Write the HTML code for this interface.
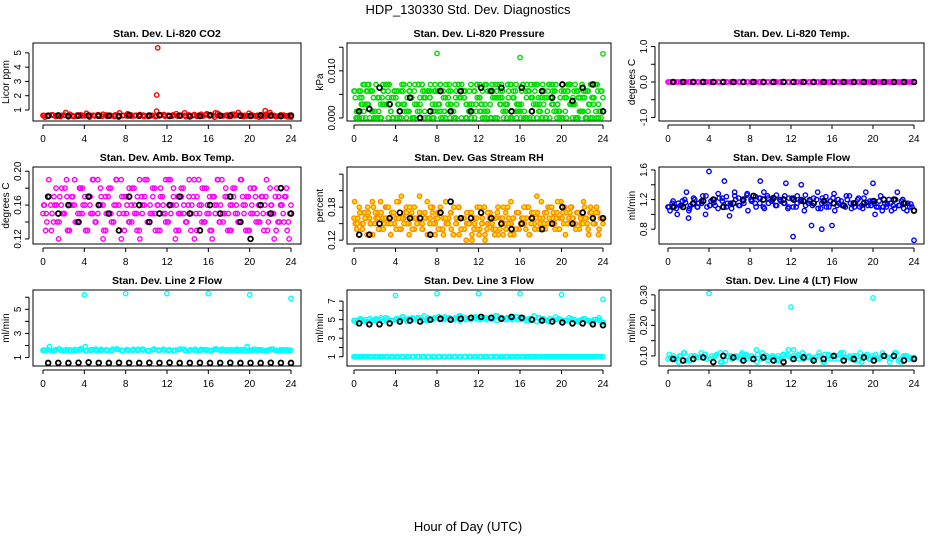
<!DOCTYPE html>
<html><head><meta charset="utf-8"><style>
body{margin:0;background:#fff}
svg{display:block;font-family:"Liberation Sans",Arial,sans-serif}
</style></head><body>
<svg id="chart" width="936" height="540" viewBox="0 0 936 540" xmlns="http://www.w3.org/2000/svg">
<text x="468" y="14" font-size="13" text-anchor="middle">HDP_130330  Std. Dev. Diagnostics</text>
<text x="468" y="531" font-size="13" text-anchor="middle">Hour of Day (UTC)</text>
</svg>
<script>
// ---- data arrays (approximate) ----
const xTicks = [0,4,8,12,16,20,24];

const co2Red = [0.62,0.58,0.66,0.55,0.6,0.64,0.52,0.61,0.57,0.66,0.59,0.54,0.63,0.6,0.56,0.65,0.58,0.62,0.5,0.61,0.67,0.57,0.6,0.63,0.55,0.62,0.6,0.58,0.66,0.61,0.56,0.64,0.59,0.62,0.54,0.6,0.68,0.63,0.57,0.74,0.62,0.8,0.66,0.6,0.56,0.7,0.65,0.58,0.62,0.77,0.6,0.63,0.55,0.7,0.82,0.62,0.58,0.64,0.6,0.5];
const co2Black = [0.6,0.62,0.58,0.6,0.61,0.59,0.6,0.58,0.62,0.6,0.61,0.63,0.58,0.6,0.55,0.58,0.64,0.6,0.62,0.6,0.58,0.63,0.6,0.57,0.61];
const co2Out = [[11.1,5.35],[11.0,2.05],[11.0,0.92],[21.5,0.95]];

const presGreen = [0.0057,0.0014,0,0.0043,0.0071,0.0029,0,0.0057,0.0014,0.0043,0,0.0029,0.0071,0.0057,0.0014,0,0.0043,0.0029,0.0057,0.0071,0,0.0014,0.0043,0.0057,0.0029,0,0.0071,0.0014,0.0057,0.0043,0,0.0029,0.0014,0.0071,0.0057,0,0.0043,0.0029,0.0014,0.0057,0.0071,0,0.0043,0.0029,0.0057,0.0014,0,0.0071,0.0043,0.0057,0.0029,0.0014,0,0.0057,0.0071,0.0043,0.0029,0,0.0014,0.0057,0.0071,0.0043,0,0.0029,0.0057,0.0014,0.0071,0,0.0043,0.0057,0.0029,0.0014,0.0071,0,0.0057,0.0043,0.0029,0.0071,0.0014,0,0.0057,0.0043,0.0071,0.0029,0.0057,0,0.0014,0.0071,0.0043,0.0057,0.0029,0,0.0071,0.0057,0.0014,0.0043];
const presGreen2 = [0,0.0029,0.0057,0.0014,0,0.0043,0.0071,0,0.0029,0.0057,0.0014,0,0.0071,0.0043,0,0.0057,0.0029,0.0014,0,0.0071,0.0043,0.0057,0,0.0029,0.0014,0.0071,0,0.0057,0.0043,0.0029,0,0.0014,0.0071,0.0057,0,0.0043,0.0029,0.0071,0.0014,0,0.0057,0.0071,0.0029,0.0043,0,0.0071,0.0014,0.0057];
const presBlack = [0.0014,0.0019,0.0064,0.0029,0.0014,0.0043,0,0.0014,0.0057,0.0014,0.0057,0.0014,0.0064,0.0057,0.0064,0.0014,0.0064,0.0014,0.0057,0.0043,0.0071,0.0036,0.0064,0.0071,0.0014];
const presOut = [[8,0.0137],[16,0.0128],[24,0.0136]];

const tempMag = new Array(60).fill(0);
const tempBlack = new Array(25).fill(0);

const ambMag = [0.15,0.13,0.17,0.16,0.14,0.18,0.12,0.16,0.15,0.19,0.13,0.17,0.16,0.14,0.18,0.15,0.17,0.13,0.16,0.19,0.14,0.15,0.18,0.16,0.13,0.17,0.15,0.14,0.19,0.16,0.12,0.17,0.15,0.18,0.14,0.16,0.13,0.19,0.15,0.17,0.14,0.16,0.18,0.15,0.13,0.17,0.16,0.19,0.14,0.15,0.18,0.16,0.13,0.17,0.15,0.14,0.19,0.16,0.12,0.17,0.15,0.18,0.14,0.16,0.13,0.17,0.15,0.19,0.16,0.14,0.18,0.15,0.13,0.17,0.16,0.14,0.19,0.15,0.17,0.13,0.16,0.18,0.15,0.14,0.17,0.16,0.13,0.18,0.15,0.17,0.14,0.16,0.15,0.17,0.14,0.16];
const ambBlack = [0.17,0.15,0.16,0.14,0.17,0.16,0.15,0.13,0.17,0.16,0.14,0.15,0.16,0.17,0.15,0.13,0.16,0.15,0.17,0.14,0.12,0.16,0.15,0.18,0.15];

const rhOrange = [0.16,0.14,0.18,0.15,0.17,0.13,0.16,0.19,0.15,0.17,0.14,0.16,0.18,0.15,0.13,0.17,0.16,0.19,0.14,0.16,0.18,0.15,0.17,0.14,0.16,0.2,0.15,0.17,0.13,0.16,0.18,0.15,0.17,0.14,0.16,0.19,0.15,0.17,0.13,0.16,0.18,0.14,0.16,0.15,0.17,0.13,0.15,0.18,0.14,0.16,0.12,0.15,0.17,0.14,0.16,0.13,0.15,0.18,0.14,0.16,0.15,0.13,0.17,0.14,0.16,0.15,0.18,0.13,0.16,0.14,0.17,0.15,0.16,0.14,0.18,0.15,0.17,0.16,0.14,0.19,0.15,0.17,0.16,0.18,0.15,0.17,0.14,0.16,0.18,0.15,0.17,0.16,0.15,0.17,0.16,0.15];
const rhBlack = [0.13,0.13,0.15,0.16,0.17,0.16,0.16,0.13,0.17,0.19,0.16,0.16,0.17,0.16,0.15,0.14,0.15,0.16,0.14,0.15,0.18,0.15,0.17,0.16,0.16];

const flowBlue = [1.1,1.15,1.08,1.12,1.2,1.05,1.14,1.1,1.18,1.0,1.12,1.16,1.08,1.22,1.1,1.15,1.25,1.12,1.2,1.28,1.18,1.24,1.15,1.3,1.22,1.18,1.26,1.2,1.15,1.22,1.1,1.25,1.18,1.12,1.2,1.15,1.08,1.22,1.1,1.18,1.05,1.15,1.12,1.2,1.08,1.15,1.1,1.22,1.12,1.18,1.1,1.25,1.15,1.2,1.12,1.3,1.18,1.15,1.1,1.05];
const flowBlack = [1.1,1.1,1.15,1.18,1.2,1.1,1.15,1.2,1.25,1.2,1.22,1.2,1.2,1.18,1.15,1.18,1.15,1.12,1.15,1.15,1.18,1.2,1.2,1.15,1.05];
const flowOut = [[4,1.58],[5.5,1.45],[9,1.45],[11.5,1.42],[12.2,0.7],[13,1.4],[14,0.85],[15,0.8],[16,0.85],[20,1.42],[24,0.65],[2,0.95],[6,0.98]];

const l2Cyan = [1.6,1.65,1.55,1.7,1.6,1.58,1.66,1.62,1.9,1.6,1.7,1.58,1.64,1.6,1.72,1.56,1.65,1.6,1.68,1.62,1.58,1.7,1.6,1.66,1.62,1.6,1.7,1.56,1.64,1.62,1.68,1.6,1.58,1.66,1.7,1.6,1.62,1.58,1.65,1.6,1.7,1.62,1.58,1.66,1.6,1.64,1.56,1.6];
const l2Black = [0.55,0.56,0.55,0.57,0.6,0.56,0.55,0.57,0.56,0.55,0.57,0.56,0.58,0.55,0.56,0.57,0.55,0.56,0.57,0.55,0.56,0.55,0.57,0.56,0.55];
const l2Out = [[4,6.2],[8,6.3],[12,6.3],[16,6.3],[20,6.2],[24,5.9]];

const l3CyanHi = [4.9,5.0,4.8,5.1,4.9,5.0,5.2,4.9,5.1,5.0,4.8,5.1,5.2,5.0,4.9,5.1,5.3,5.0,5.2,5.1,4.9,5.2,5.0,5.3,5.1,5.2,5.0,5.4,5.2,5.1,5.3,5.0,5.2,5.1,5.4,5.2,5.0,5.1,5.3,5.0,4.9,5.1,4.8,5.0,4.9,4.8,5.0,4.7];
const l3CyanLo = new Array(48).fill(1.0);
const l3Black = [4.6,4.5,4.5,4.6,4.8,4.9,4.8,5.0,5.1,5.0,5.1,5.2,5.3,5.2,5.1,5.3,5.2,5.0,4.9,4.8,4.7,4.6,4.6,4.5,4.4];
const l3Out = [[4,7.6],[8,7.8],[12,7.8],[16,7.8],[20,7.7],[24,7.2]];

const l4Cyan = [0.09,0.1,0.08,0.11,0.09,0.1,0.095,0.105,0.09,0.1,0.11,0.085,0.1,0.095,0.105,0.09,0.1,0.08,0.11,0.095,0.1,0.09,0.105,0.1,0.12,0.09,0.1,0.095,0.085,0.1,0.105,0.09,0.1,0.11,0.095,0.09,0.1,0.08,0.105,0.1,0.09,0.11,0.095,0.1,0.085,0.1,0.09,0.095];
const l4Black = [0.09,0.085,0.09,0.095,0.08,0.1,0.095,0.085,0.09,0.095,0.085,0.08,0.09,0.095,0.085,0.09,0.1,0.085,0.09,0.095,0.085,0.1,0.1,0.085,0.09];
const l4Out = [[4,0.305],[12,0.26],[20,0.29]];

// ---- layout ----
const svg = document.getElementById('chart');
const NS = 'http://www.w3.org/2000/svg';
const cols = [{L:33,R:301,x0:43,x1:291},{L:347,R:611,x0:354,x1:603},{L:659,R:924,x0:668,x1:914}];
const rows = [{T:43,B:121},{T:167,B:244},{T:290,B:366}];

function mk(tag, attrs, parent){
  const e = document.createElementNS(NS, tag);
  for (const k in attrs) e.setAttribute(k, attrs[k]);
  (parent||svg).appendChild(e);
  return e;
}

function panel(ci, ri, title, ylab, ymin, ymax, yTicks, yTickLabels, series, key){
  const c = cols[ci], r = rows[ri];
  const g = mk('g', {});
  
  
  const xs = h => c.x0 + (c.x1 - c.x0) * h / 24;
  const ys = v => r.B - (r.B - r.T) * (v - ymin) / (ymax - ymin);
  const t = mk('text', {x:(c.L+c.R)/2, y:r.T-6, 'font-size':10.5, 'font-weight':'bold', 'text-anchor':'middle'}, g);
  t.textContent = title;
  
  
  const box = mk('rect', {x:c.L, y:r.T, width:c.R-c.L, height:r.B-r.T, fill:'none', stroke:'#000', 'stroke-width':1}, g);
  
  
  const xa = mk('g', {}, g);
  
  
  mk('line', {x1:xs(xTicks[0]), x2:xs(xTicks[xTicks.length-1]), y1:r.B+4, y2:r.B+4, stroke:'#000'}, xa);
  xTicks.forEach(h=>{
    mk('line', {x1:xs(h), x2:xs(h), y1:r.B+4, y2:r.B+8, stroke:'#000'}, xa);
    const tl = mk('text', {x:xs(h), y:r.B+21, 'font-size':10, 'text-anchor':'middle'}, xa);
    tl.textContent = h;
  });
  const ya = mk('g', {}, g);
  
  
  mk('line', {x1:c.L-4, x2:c.L-4, y1:ys(yTicks[0]), y2:ys(yTicks[yTicks.length-1]), stroke:'#000'}, ya);
  yTicks.forEach((v,i)=>{
    mk('line', {x1:c.L-8, x2:c.L-4, y1:ys(v), y2:ys(v), stroke:'#000'}, ya);
    if (yTickLabels[i] !== '') {
      const X = c.L-12, Y = ys(v);
      const tl = mk('text', {x:X, y:Y, 'font-size':10, 'text-anchor':'middle', transform:`rotate(-90 ${X} ${Y})`}, ya);
      tl.textContent = yTickLabels[i];
    }
  });
  const yl = mk('text', {x:c.L-24, y:(r.T+r.B)/2, 'font-size':10, 'text-anchor':'middle', transform:`rotate(-90 ${c.L-24} ${(r.T+r.B)/2})`}, g);
  yl.textContent = ylab;
  
  
  series.forEach(s=>{
    const sg = mk('g', {}, g);
    
    
    let pts;
    if (s.pts) pts = s.pts;
    else {
      pts = s.vals.map((v,i)=>[s.off + i*(s.span)/(s.vals.length-1), v]);
      if (s.dense) {
        const rv = s.vals.slice().reverse();
        const n = rv.length;
        pts = pts.concat(rv.map((v,i)=>[s.off + (i+0.5)*(s.span)/(n-1) * (n-1)/n, v]));
        const rot = s.vals.slice(7).concat(s.vals.slice(0,7));
        pts = pts.concat(rot.map((v,i)=>[s.off + (i+0.25)*(s.span)/(n), v]));
      }
    }
    pts.forEach(p=>{
      const cc = mk('circle', {cx:xs(p[0]), cy:ys(p[1]), r:s.r||2.2, fill:s.fill||'none', stroke:s.color, 'stroke-width':s.sw||1.4}, sg);
      
      
    });
  });
}

const S = (name, vals, color, off, span, dense) => ({name, vals, color, off:off===undefined?0:off, span:span===undefined?24:span, dense:!!dense});
const B = (name, vals) => ({name, vals, color:'#000', off:0.5, span:23.5, sw:1.8, r:2.4});
const P = (name, pts, color) => ({name, pts, color});

panel(0,0,'Stan. Dev. Li-820 CO2','Licor ppm',0.23,5.69,[1,2,3,4,5],['1','2','3','4','5'],
  [S('red-series',co2Red,'#ff0000',0,24,true),P('red-outliers',co2Out,'#ff0000'),B('black-series',co2Black)],'co2');
panel(1,0,'Stan. Dev. Li-820 Pressure','kPa',-0.00065,0.0159,[0,0.005,0.010,0.015],['0.000','','0.010',''],
  [S('green-series',presGreen,'#00dd00',0,24,true),S('green-series-2',presGreen2,'#00dd00',0.2,23.6,true),P('green-outliers',presOut,'#00dd00'),B('black-series',presBlack)],'pressure');
panel(2,0,'Stan. Dev. Li-820 Temp.','degrees C',-1.1,1.1,[-1,-0.5,0,0.5,1],['-1.0','','0.0','','1.0'],
  [S('magenta-series',tempMag,'#ff00ff',0,24,true),B('black-series',tempBlack)],'temp');
panel(0,1,'Stan. Dev. Amb. Box Temp.','degrees C',0.114,0.205,[0.12,0.14,0.16,0.18,0.20],['0.12','','0.16','','0.20'],
  [S('magenta-series',ambMag,'#ff00ff',0,24,true),B('black-series',ambBlack)],'ambbox');
const rhS = S('orange-series',rhOrange,'#ff8c00',0,24,true); rhS.fill='#ffe600';
panel(1,1,'Stan. Dev. Gas Stream RH','percent',0.113,0.253,[0.12,0.15,0.18,0.21,0.24],['0.12','','0.18','',''],
  [rhS,B('black-series',rhBlack)],'rh');
panel(2,1,'Stan. Dev. Sample Flow','ml/min',0.6,1.64,[0.8,1.0,1.2,1.4,1.6],['0.8','','1.2','','1.6'],
  [S('blue-series',flowBlue,'#0000ff',0,24,true),P('blue-outliers',flowOut,'#0000ff'),B('black-series',flowBlack)],'sampleflow');
panel(0,2,'Stan. Dev. Line 2 Flow','ml/min',0.3,6.6,[1,2,3,4,5,6],['1','','3','','5',''],
  [S('cyan-series',l2Cyan,'#00ffff',0,24,true),P('cyan-outliers',l2Out,'#00ffff'),B('black-series',l2Black)],'line2');
panel(1,2,'Stan. Dev. Line 3 Flow','ml/min',0.0,8.2,[1,2,3,4,5,6,7],['1','','3','','5','','7'],
  [S('cyan-high-series',l3CyanHi,'#00ffff',0,24,true),S('cyan-low-series',l3CyanLo,'#00ffff',0,24,true),P('cyan-outliers',l3Out,'#00ffff'),B('black-series',l3Black)],'line3');
panel(2,2,'Stan. Dev. Line 4 (LT) Flow','ml/min',0.067,0.316,[0.10,0.15,0.20,0.25,0.30],['0.10','','0.20','','0.30'],
  [S('cyan-series',l4Cyan,'#00ffff',0,24,true),P('cyan-outliers',l4Out,'#00ffff'),B('black-series',l4Black)],'line4');
</script>
</body></html>
